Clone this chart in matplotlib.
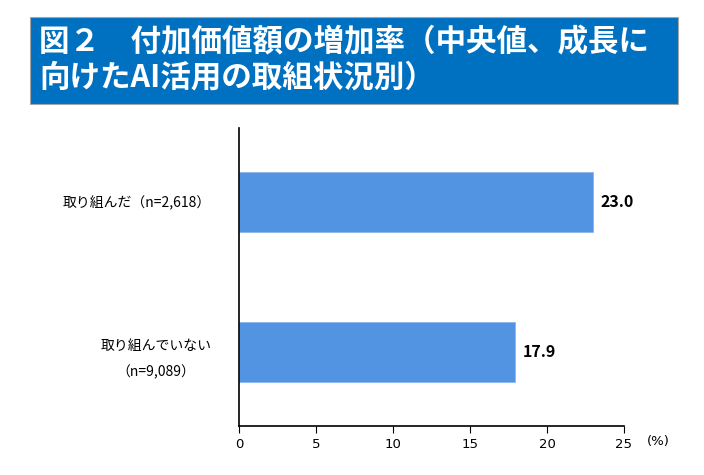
import matplotlib
matplotlib.use("Agg")
import matplotlib.pyplot as plt
from matplotlib.patches import Rectangle

plt.rcParams['font.family'] = ['Noto Sans CJK JP', 'DejaVu Sans']

# data
categories = ["取り組んだ（n=2,618）", "取り組んでいない\n（n=9,089）"]
values = [23.0, 17.9]
xticks = [0, 5, 10, 15, 20, 25]
title = "図２　付加価値額の増加率（中央値、成長に\n向けたAI活用の取組状況別）"

fig = plt.figure(figsize=(7.04, 4.75), dpi=100)

# title banner
fig.patches.append(Rectangle((30 / 704, 1 - 104 / 475), 648 / 704, 87 / 475,
                             transform=fig.transFigure, facecolor='#0070C0',
                             edgecolor='#A6A6A6', linewidth=0.8))
fig.text(39 / 704, 1 - 60 / 475, title, color='white', fontsize=22,
         fontweight='bold', va='center', ha='left', linespacing=1.1)

ax = fig.add_axes([239 / 704, 1 - 426 / 475, 385 / 704, 298 / 475])
y = list(range(len(categories)))
ax.barh(y, values, height=0.4, color='#5294E2', edgecolor='#8CB8EC', linewidth=0.6)
ax.set_ylim(1.493, -0.493)
ax.set_xlim(0, 25)
ax.set_xticks(xticks)
ax.set_xticklabels([str(t) for t in xticks], family='DejaVu Sans', fontsize=9.5)
ax.set_yticks(y)
ax.set_yticklabels(categories, fontsize=10, multialignment='center', linespacing=2.0)
ax.tick_params(axis='y', length=0, pad=20)
ax.tick_params(axis='x', length=5, direction='out', pad=4)

for s in ['top', 'right']:
    ax.spines[s].set_visible(False)
for s in ['left', 'bottom']:
    ax.spines[s].set_linewidth(1.2)

for yi, v in zip(y, values):
    ax.text(v + 0.5, yi, f"{v:.1f}", va='center', ha='left', fontsize=11.5,
            fontweight='bold')

fig.text(658 / 704, 1 - 442 / 475, "(%)", fontsize=9.5, family='DejaVu Sans',
         ha='center', va='center')

fig.savefig("out.png", dpi=100)
